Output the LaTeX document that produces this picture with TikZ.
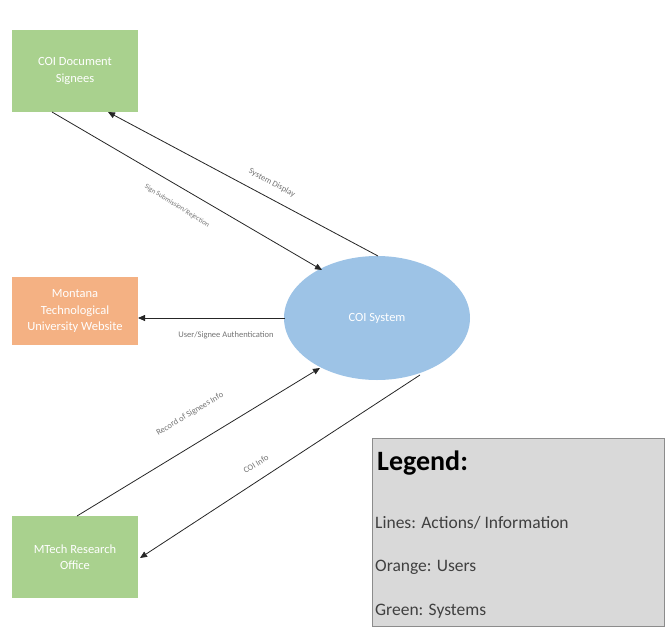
\documentclass[tikz,border=0pt]{standalone}
\usepackage{fontspec}
\setmainfont{Carlito}
\usetikzlibrary{arrows.meta,shapes.geometric}
\definecolor{gbox}{HTML}{A9D18E}
\definecolor{obox}{HTML}{F4B183}
\definecolor{bell}{HTML}{9DC3E6}
\definecolor{lgray}{HTML}{D9D9D9}
\tikzset{
  ent/.style={rectangle,minimum width=126pt,minimum height=82pt,inner sep=2pt,text=white,font=\fontsize{12.5}{16.5}\selectfont,align=center},
  flow/.style={draw=black!85,line width=0.8pt,-{Triangle[length=7pt,width=6pt]}},
  lab/.style={font=\fontsize{8.5}{10}\selectfont,text=black!55,inner sep=0pt},
  legtxt/.style={anchor=west,font=\fontsize{17.5}{20}\selectfont,text=black!75,inner sep=0pt}
}
\begin{document}
\begin{tikzpicture}[x=1pt,y=-1pt]
\useasboundingbox (0,0) rectangle (666,627);
\node[ent,fill=gbox] (doc) at (75,71) {COI Document\\Signees};
\node[ent,fill=obox,minimum height=68pt] (web) at (75,311) {Montana\\Technological\\University Website};
\node[ent,fill=gbox] (mtr) at (75,557) {MTech Research\\Office};
\node[ellipse,fill=bell,minimum width=186pt,minimum height=124pt,text=white,font=\fontsize{12.5}{15}\selectfont] (sys) at (377,318) {COI System};
\node[draw=black!45,fill=lgray,line width=0.8pt,minimum width=292pt,minimum height=188pt] (leg) at (518,532) {};
\node[anchor=west,font=\fontsize{28}{32}\selectfont\bfseries,inner sep=0pt] (legt) at (377,463) {Legend:};
\node[legtxt] (l1) at (375,523) {Lines: Actions/ Information};
\node[legtxt] (l2) at (375,567) {Orange: Users};
\node[legtxt] (l3) at (375,611) {Green: Systems};
\coordinate (s1) at (378,256);
\coordinate (d1) at (108,112);
\coordinate (d2) at (52,112);
\coordinate (s2) at (322,270);
\coordinate (s3) at (285,318);
\coordinate (w3) at (138,318);
\coordinate (m4) at (77,516);
\coordinate (s4) at (320,368);
\coordinate (s5) at (420,375);
\coordinate (m5) at (140,558);
\draw[flow] (s1) -- (d1);
\draw[flow] (d2) -- (s2);
\draw[flow] (s3) -- (w3);
\draw[flow] (m4) -- (s4);
\draw[flow] (s5) -- (m5);
\node[lab,rotate=-28] (t1) at (272,183) {System Display};
\node[lab,rotate=-32,font=\fontsize{7}{8}\selectfont] (t2) at (177,206) {Sign Submission/Rejection};
\node[lab] (t3) at (226,335) {User/Signee Authentication};
\node[lab,rotate=31] (t4) at (190,414) {Record of Signees Info};
\node[lab,rotate=31] (t5) at (256,464) {COI Info};
\end{tikzpicture}
\end{document}
